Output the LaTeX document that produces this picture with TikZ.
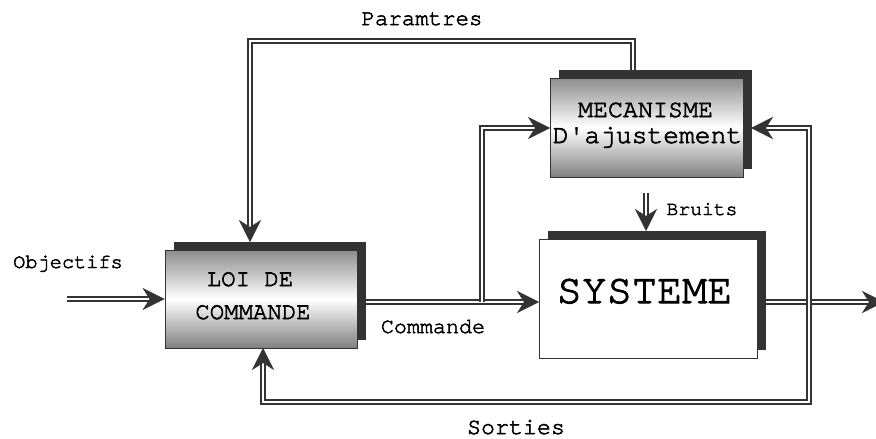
\documentclass[tikz,border=0pt]{standalone}
\usepackage{fontspec}
\newfontfamily\cour[FakeBold=2.4]{texgyrecursor-regular.otf}
\usetikzlibrary{arrows.meta,shadows,calc}
\definecolor{dk}{RGB}{51,51,51}
\pgfdeclarelayer{background}
\pgfsetlayers{background,main}
\tikzset{
  dbl/.style={draw=dk, line width=1.8pt, double=white, double distance=1.6pt},
  head/.style={draw=white, line width=0.1pt, -{Stealth[length=22pt,width=22pt,inset=7pt,line width=0.4pt,color=dk]}},
  blk/.style={draw=dk, line width=0.8pt, inner sep=0pt,
    general shadow={fill=dk, shadow xshift=9pt, shadow yshift=8pt}},
  grad/.style={top color=black!45, bottom color=black!50, middle color=white},
  lbl/.style={font={\cour\fontsize{#1}{#1}\selectfont}, inner sep=0pt, anchor=base}
}
\begin{document}
\begin{tikzpicture}[x=1pt,y=-1pt]
\begin{pgfonlayer}{background}
\fill[white] (0,0) rectangle (876,439);
\end{pgfonlayer}
\useasboundingbox (0,0) rectangle (876,439);

% blocks
\node[blk, grad, minimum width=192pt, minimum height=98pt] (loi) at (261,299) {};
\node[blk, grad, minimum width=193pt, minimum height=99pt] (mec) at (646.5,127.5) {};
\node[blk, fill=white, minimum width=218pt, minimum height=119pt] (sys) at (648,298.5) {};

% block texts
\node[lbl=24] (loi1) at (250,286) {LOI DE};
\node[lbl=24] (loi2) at (253,319) {COMMANDE};
\node[lbl=25] (mec1) at (645.5,117) {MECANISME};
\node[lbl=26.3] (mec2) at (647.5,143) {D'ajustement};
\node[lbl=41.8] (systxt) at (644.5,303) {SYSTEME};

% labels
\node[lbl=20.3] (lobj) at (68,268) {Objectifs};
\node[lbl=22.4] (lpar) at (422,25) {Paramtres};
\node[lbl=21.7] (lcmd) at (433,333) {Commande};
\node[lbl=23.3] (lsor) at (516,434) {Sorties};
\node[lbl=19.7] (lbru) at (702,215) {Bruits};

% coordinates
\coordinate (objS) at (67,299);
\coordinate (cmdS) at (357,302);
\coordinate (cmdT) at (539,302);
\coordinate (brB) at (482,302);
\coordinate (brC) at (482,128);
\coordinate (brT) at (550,128);
\coordinate (parS) at (633,110);
\coordinate (parC1) at (633,41);
\coordinate (parC2) at (250,41);
\coordinate (parT) at (250,242);
\coordinate (bruS) at (646,193);
\coordinate (bruT) at (646,231);
\coordinate (outS) at (757,302);
\coordinate (outT) at (884,302);
\coordinate (fbT) at (751,128);
\coordinate (fbC1) at (809,128);
\coordinate (fbC2) at (809,402);
\coordinate (fbC3) at (263,402);
\coordinate (fbL) at (263,348);

% double connectors (behind blocks)
\begin{pgfonlayer}{background}
\draw[dbl, shorten >=12pt] (cmdS) -- (cmdT);
\draw[dbl, shorten >=12pt] (outS) -- (outT);
\draw[dbl, shorten >=12pt] (brB) -- (brC) -- (brT);
\draw[dbl, shorten <=12pt, shorten >=12pt] (fbT) -- (fbC1) -- (fbC2) -- (fbC3) -- (fbL);
\draw[dbl, shorten >=12pt] (parS) -- (parC1) -- (parC2) -- (parT);
\draw[dbl, shorten >=12pt] (bruS) -- (bruT);
\draw[dbl, shorten >=12pt] (objS) -- (loi.west);
\end{pgfonlayer}

% arrow heads
\draw[head] ($(loi.west)+(-20,0)$) -- (loi.west);
\draw[head] ($(cmdT)+(-20,0)$) -- (cmdT);
\draw[head] ($(brT)+(-20,0)$) -- (brT);
\draw[head] ($(fbT)+(20,0)$) -- (fbT);
\draw[head] ($(fbL)+(0,20)$) -- (fbL);
\draw[head] ($(parT)+(0,-20)$) -- (parT);
\draw[head] (bruS) -- (bruT);
\draw[head] ($(outT)+(-20,0)$) -- (outT);
\end{tikzpicture}
\end{document}
